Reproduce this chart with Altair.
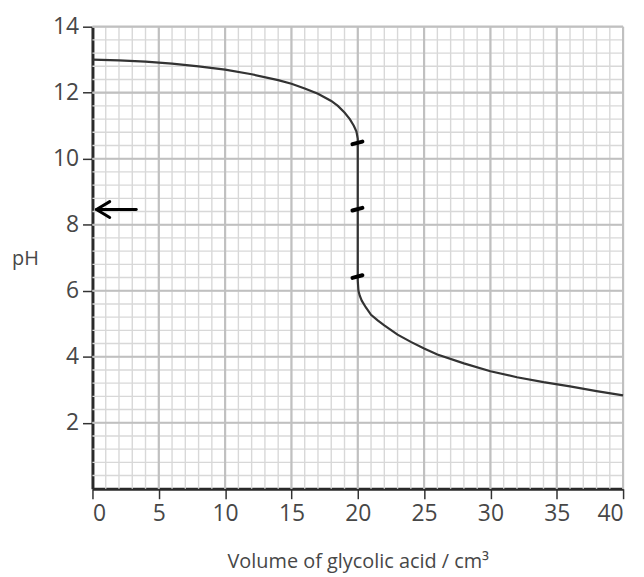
import altair as alt
import pandas as pd

# Titration curve
volume = [0, 2, 4, 6, 8, 10, 12, 14, 15, 16, 17, 18, 18.5, 19, 19.4, 19.7, 19.9, 20, 20,
          20.05, 20.15, 20.3, 20.6, 21, 21.5, 22, 23, 24, 25, 26, 28, 30, 32, 34, 36, 38, 40]
ph = [13.0, 12.98, 12.94, 12.88, 12.8, 12.7, 12.56, 12.38, 12.27, 12.13, 11.97, 11.75, 11.6,
      11.4, 11.2, 11.0, 10.82, 10.6, 6.3,
      6.0, 5.85, 5.7, 5.5, 5.27, 5.1, 4.95, 4.67, 4.45, 4.25, 4.07, 3.8, 3.56, 3.38, 3.23,
      3.1, 2.96, 2.83]

x_ticks = [0, 5, 10, 15, 20, 25, 30, 35, 40]
y_ticks = [2, 4, 6, 8, 10, 12, 14]
x_minor = list(range(1, 41))
y_minor = [round(i * 0.4, 1) for i in range(1, 36)]
x_major = [5, 10, 15, 20, 25, 30, 35, 40]
y_major = [2, 4, 6, 8, 10, 12, 14]

# Hand-drawn marks on the vertical section (pH values) and the arrow
mark_ph = [10.48, 8.47, 6.43]
arrow_seg = [0, 0, 1, 1, 1]
arrow_x = [3.3, 0.3, 1.3, 0.3, 1.3]
arrow_y = [8.46, 8.46, 8.7, 8.46, 8.22]
arrow_ord = [0, 1, 0, 1, 2]

curve_df = pd.DataFrame({"v": volume, "ph": ph, "o": range(len(volume))})
marks_rows = []
for i, p in enumerate(mark_ph):
    marks_rows.append({"g": i, "v": 19.6, "ph": p - 0.04, "o": 0})
    marks_rows.append({"g": i, "v": 20.35, "ph": p + 0.04, "o": 1})
marks_df = pd.DataFrame(marks_rows)
arrow_df = pd.DataFrame({"g": arrow_seg, "v": arrow_x, "ph": arrow_y, "o": arrow_ord})

FONT = "Open Sans"
TXT = "#474747"

x_scale = alt.Scale(domain=[0, 40], nice=False, zero=False)
y_scale = alt.Scale(domain=[0, 14], nice=False, zero=False)

x_axis = alt.Axis(values=x_ticks, grid=False,
                  titleY=73, titleBaseline="middle")
y_axis = alt.Axis(values=y_ticks, grid=False,
                  titleAngle=0, titleX=-68, titleY=233, titleAlign="center",
                  titleBaseline="middle")

X_TITLE = "Volume of glycolic acid / cm³"


def xenc(field):
    return alt.X(field, type="quantitative", scale=x_scale, axis=x_axis, title=X_TITLE)


def yenc(field):
    return alt.Y(field, type="quantitative", scale=y_scale, axis=y_axis, title="pH")


xminor_l = alt.Chart(pd.DataFrame({"v": x_minor})).mark_rule(
    color="#d8d8d8", strokeWidth=1.4).encode(x=xenc("v"))
yminor_l = alt.Chart(pd.DataFrame({"ph": y_minor})).mark_rule(
    color="#d8d8d8", strokeWidth=1.4).encode(y=yenc("ph"))
xmajor_l = alt.Chart(pd.DataFrame({"v": x_major})).mark_rule(
    color="#c0c0c0", strokeWidth=2.2).encode(x=xenc("v"))
ymajor_l = alt.Chart(pd.DataFrame({"ph": y_major})).mark_rule(
    color="#c0c0c0", strokeWidth=2.2).encode(y=yenc("ph"))

curve_l = alt.Chart(curve_df).mark_line(color="#333333", strokeWidth=2.2).encode(
    x=xenc("v"), y=yenc("ph"), order="o:Q")

marks_l = alt.Chart(marks_df).mark_line(color="#000000", strokeWidth=4, strokeCap="round").encode(
    x=xenc("v"), y=yenc("ph"), detail="g:N", order="o:Q")

arrow_l = alt.Chart(arrow_df).mark_line(color="#000000", strokeWidth=3, strokeCap="round",
                                        strokeJoin="round").encode(
    x=xenc("v"), y=yenc("ph"), detail="g:N", order="o:Q")

chart = alt.layer(xminor_l, yminor_l, xmajor_l, ymajor_l, curve_l, marks_l, arrow_l).properties(
    width=534, height=465,
    autosize=alt.AutoSizeParams(type="none"),
    padding={"left": 85, "top": 17, "right": 13, "bottom": 90},
    background="white",
).configure_view(stroke=None).configure_axis(
    domainColor="#2a2a2a", domainWidth=3,
    tickColor="#333333", tickWidth=1.5, tickSize=10,
    labelFont=FONT, labelFontSize=23, labelColor=TXT, labelPadding=4,
    titleFont=FONT, titleFontSize=20, titleColor=TXT, titleFontWeight="normal",
    zindex=2,
)

chart.save("out.html", embed_options={"renderer": "svg", "actions": False})
